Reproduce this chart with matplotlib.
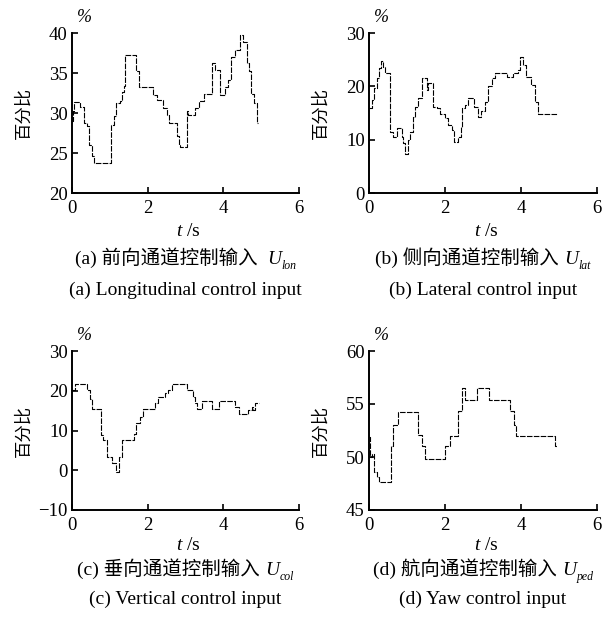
import matplotlib
matplotlib.use("Agg")
import matplotlib.pyplot as plt

plt.rcParams['font.family'] = ['Liberation Serif', 'Noto Sans CJK SC']
plt.rcParams['mathtext.fontset'] = 'custom'
plt.rcParams['mathtext.rm'] = 'Liberation Serif'
plt.rcParams['mathtext.it'] = 'Liberation Serif:italic'
plt.rcParams['axes.unicode_minus'] = False

# (a) longitudinal control input
t_lon = [0.00, 0.03, 0.06, 0.20, 0.32, 0.40, 0.45, 0.52, 0.57, 1.02, 1.10, 1.17, 1.27,
         1.33, 1.37, 1.40, 1.68, 1.77, 2.15, 2.25, 2.40, 2.52, 2.57, 2.77, 2.82, 2.85,
         3.03, 3.07, 3.25, 3.35, 3.50, 3.70, 3.77, 3.90, 4.05, 4.12, 4.20, 4.30, 4.45,
         4.52, 4.63, 4.69, 4.74, 4.82, 4.88, 4.92]
u_lon = [29.0, 30.2, 31.4, 30.7, 28.8, 28.4, 26.0, 24.6, 23.8, 28.5, 29.6, 31.3, 31.5,
         32.6, 33.4, 37.2, 35.2, 33.3, 32.3, 31.6, 30.6, 29.7, 28.7, 27.1, 26.0, 25.8,
         30.2, 29.8, 30.6, 31.5, 32.4, 36.3, 35.4, 32.3, 33.3, 34.1, 37.0, 37.9, 39.8,
         38.9, 36.2, 35.2, 32.4, 31.2, 28.7, 28.7]

# (b) lateral control input
t_lat = [0.00, 0.03, 0.07, 0.14, 0.20, 0.26, 0.32, 0.38, 0.42, 0.55, 0.64, 0.73, 0.86,
         0.90, 0.95, 1.02, 1.08, 1.17, 1.21, 1.30, 1.39, 1.52, 1.56, 1.69, 1.78, 1.87,
         2.00, 2.09, 2.18, 2.24, 2.35, 2.42, 2.46, 2.53, 2.61, 2.75, 2.88, 2.96, 3.04,
         3.14, 3.23, 3.32, 3.62, 3.80, 3.91, 3.97, 4.06, 4.12, 4.26, 4.37, 4.44, 4.94]
u_lat = [15.9, 15.9, 17.4, 19.6, 21.5, 23.4, 24.7, 23.7, 22.5, 11.5, 10.5, 12.1, 10.5,
         9.3, 7.4, 9.9, 11.5, 14.3, 16.2, 17.8, 21.5, 19.3, 20.6, 16.2, 15.9, 14.9,
         14.0, 12.7, 11.8, 9.6, 10.5, 12.4, 15.9, 16.5, 17.8, 16.2, 14.3, 15.3, 17.1,
         20.0, 21.5, 22.5, 21.8, 22.5, 23.1, 25.5, 24.0, 21.8, 20.3, 17.1, 14.9, 14.9]

# (c) vertical (collective) control input
t_col = [0.00, 0.03, 0.09, 0.40, 0.47, 0.53, 0.73, 0.76, 0.83, 0.92, 1.05, 1.16, 1.23,
         1.32, 1.63, 1.70, 1.80, 1.87, 2.20, 2.28, 2.46, 2.55, 2.64, 3.03, 3.08, 3.21,
         3.25, 3.30, 3.43, 3.69, 3.89, 4.31, 4.42, 4.66, 4.75, 4.79, 4.83, 4.94]
u_col = [20.1, 20.1, 21.8, 20.1, 18.0, 15.5, 15.5, 8.8, 7.6, 3.4, 1.7, -0.4, 3.4,
         7.7, 9.2, 11.8, 13.5, 15.5, 17.0, 18.5, 19.5, 20.3, 21.8, 20.3, 20.3, 18.5,
         17.0, 15.5, 17.4, 15.5, 17.4, 15.9, 14.1, 15.1, 15.9, 15.1, 16.8, 16.8]

# (d) yaw (pedal) control input
t_ped = [0.00, 0.03, 0.09, 0.14, 0.20, 0.26, 0.58, 0.64, 0.75, 1.28, 1.39, 1.47, 2.00,
         2.13, 2.35, 2.46, 2.53, 2.85, 3.16, 3.71, 3.82, 3.87, 4.89, 4.94]
u_ped = [51.9, 50.0, 50.3, 48.6, 48.1, 47.6, 51.0, 53.0, 54.2, 52.1, 51.0, 49.8, 51.0,
         52.0, 54.3, 56.5, 55.4, 56.5, 55.4, 54.3, 53.0, 52.0, 51.0, 51.0]

series = [(t_lon, u_lon), (t_lat, u_lat), (t_col, u_col), (t_ped, u_ped)]
yticks = [[20, 25, 30, 35, 40], [0, 10, 20, 30], [-10, 0, 10, 20, 30], [45, 50, 55, 60]]
xticks = [0, 2, 4, 6]

captions_cn = ['(a) 前向通道控制输入  ', '(b) 侧向通道控制输入 ',
               '(c) 垂向通道控制输入 ', '(d) 航向通道控制输入 ']
subscripts = ['lon', 'lat', 'col', 'ped']
captions_en = ['(a) Longitudinal control input', '(b) Lateral control input',
               '(c) Vertical control input', '(d) Yaw control input']

W, H = 609, 618
fig = plt.figure(figsize=(W / 100, H / 100), dpi=100)

# axes boxes in pixels: (left, top, right, bottom)
boxes = [(72, 33, 299, 193), (369, 33, 597, 193), (72, 351, 299, 510), (369, 351, 597, 510)]
# vertical pixel positions of the three text rows under each panel
rows = [(232, 259, 290), (232, 259, 290), (545, 570, 599), (545, 570, 599)]

parts = []
for i, ((l, t, r, b), (tx, ty), yt) in enumerate(zip(boxes, series, yticks)):
    ax = fig.add_axes([l / W, 1 - b / H, (r - l) / W, (b - t) / H])
    ax.plot(tx, ty, color='black', lw=0.8, drawstyle='steps-post', dashes=(5, 1.2))
    ax.set_xlim(0, 6)
    ax.set_ylim(yt[0], yt[-1])
    ax.set_xticks(xticks)
    ax.set_yticks(yt)
    ax.set_yticklabels([str(v).replace('-', '\u2212') for v in yt])
    for s in ('top', 'right'):
        ax.spines[s].set_visible(False)
    for s in ('left', 'bottom'):
        ax.spines[s].set_linewidth(1.4)
    ax.tick_params(direction='in', length=4, width=1.2, labelsize=13.5)
    ax.tick_params(axis='x', pad=5)
    ax.tick_params(axis='y', pad=3)
    ax.set_ylabel('百分比', fontsize=12.5, family=['Noto Sans CJK SC'])
    ax.yaxis.set_label_coords(-0.175, 0.5)
    ax.text(0.055, 1.10, '%', transform=ax.transAxes, fontsize=13,
            style='italic', ha='center', va='center')

    cx = (l + r) / 2 / W
    ry = rows[i]
    fig.text(cx + 0.005, 1 - ry[0] / H, '$t$ /s', fontsize=14, ha='center', va='center')
    y = 1 - ry[1] / H
    t_cn = fig.text(cx, y, captions_cn[i], fontsize=14, ha='left', va='baseline')
    t_u = fig.text(cx, y, 'U', fontsize=14, style='italic', ha='left', va='baseline')
    t_s = fig.text(cx, y, subscripts[i], fontsize=8.5, style='italic', ha='left', va='baseline')
    fig.text(cx, 1 - ry[2] / H, captions_en[i], fontsize=14, ha='center', va='center')
    parts.append((cx, t_cn, t_u, t_s))

# centre each Chinese caption together with its symbol under the panel
fig.canvas.draw()
rend = fig.canvas.get_renderer()
for cx, t_cn, t_u, t_s in parts:
    w1 = t_cn.get_window_extent(rend).width / W
    w2 = t_u.get_window_extent(rend).width / W
    w3 = t_s.get_window_extent(rend).width / W
    left = cx - (w1 + w2 + w3) / 2
    y = t_cn.get_position()[1] - 5 / H
    t_cn.set_position((left, y))
    t_u.set_position((left + w1, y))
    t_s.set_position((left + w1 + w2 + 0.5 / W, y - 5 / H))

fig.savefig('out.png', dpi=100)
